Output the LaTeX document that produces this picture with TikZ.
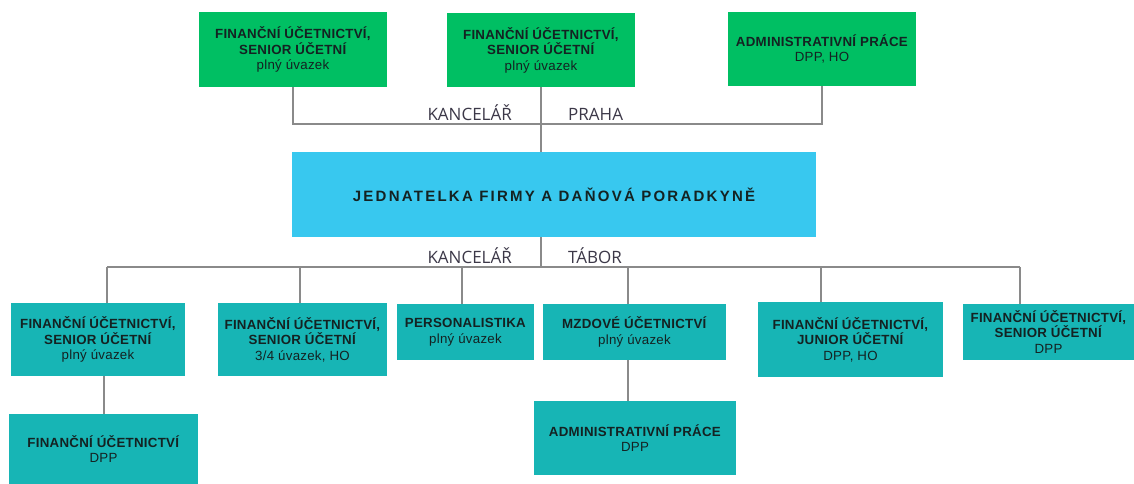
\documentclass[tikz,border=0pt]{standalone}
\usepackage{fontspec}
\setmainfont{Liberation Sans}
\newfontfamily\labelfont{Open Sans}
\definecolor{cgreen}{HTML}{00BF63}
\definecolor{cblue}{HTML}{38C8EF}
\definecolor{cteal}{HTML}{17B5B5}
\definecolor{ctext}{HTML}{142222}
\definecolor{cline}{HTML}{8A8A8A}
\definecolor{clabel}{HTML}{3C3848}
\tikzset{
  box/.style={draw=none, inner sep=0pt, align=center, text=ctext,
    font=\fontsize{13.3}{15.5}\selectfont\addfontfeatures{LetterSpace=2}},
  gbox/.style={box, fill=cgreen},
  tbox/.style={box, fill=cteal},
  conn/.style={draw=cline, line width=1.1pt},
  lbl/.style={font=\labelfont\fontsize{17}{19}\selectfont, text=clabel, inner sep=0pt}
}
\begin{document}
\begin{tikzpicture}[x=1pt,y=-1pt]
\useasboundingbox[fill=white] (0,0) rectangle (1134,483);
% top row
\node[gbox, minimum width=188pt, minimum height=75pt] (T1) at (293,49.5)
  {\textbf{FINANČNÍ ÚČETNICTVÍ,}\\\textbf{SENIOR ÚČETNÍ}\\plný úvazek};
\node[gbox, minimum width=188pt, minimum height=74pt] (T2) at (541,50)
  {\textbf{FINANČNÍ ÚČETNICTVÍ,}\\\textbf{SENIOR ÚČETNÍ}\\plný úvazek};
\node[gbox, minimum width=188pt, minimum height=74pt] (T3) at (822,49)
  {\textbf{ADMINISTRATIVNÍ PRÁCE}\\DPP, HO};
% main
\node[box, fill=cblue, minimum width=524pt, minimum height=85pt,
  font=\fontsize{15}{18}\selectfont\bfseries\addfontfeatures{LetterSpace=15}] (M) at (554,194.5)
  {JEDNATELKA FIRMY A DAŇOVÁ PORADKYNĚ};
% bottom row
\node[tbox, minimum width=174pt, minimum height=73pt] (B1) at (98,339.5)
  {\textbf{FINANČNÍ ÚČETNICTVÍ,}\\\textbf{SENIOR ÚČETNÍ}\\plný úvazek};
\node[tbox, minimum width=169pt, minimum height=73pt] (B2) at (302.5,339.5)
  {\textbf{FINANČNÍ ÚČETNICTVÍ,}\\\textbf{SENIOR ÚČETNÍ}\\3/4 úvazek, HO};
\node[tbox, minimum width=137pt, minimum height=56pt] (B3) at (465.5,332)
  {\textbf{PERSONALISTIKA}\\plný úvazek};
\node[tbox, minimum width=183pt, minimum height=56pt] (B4) at (634.5,332)
  {\textbf{MZDOVÉ ÚČETNICTVÍ}\\plný úvazek};
\node[tbox, minimum width=185pt, minimum height=75pt] (B5) at (850.5,339.5)
  {\textbf{FINANČNÍ ÚČETNICTVÍ,}\\\textbf{JUNIOR ÚČETNÍ}\\DPP, HO};
\node[tbox, minimum width=171pt, minimum height=56pt] (B6) at (1048.5,332)
  {\textbf{FINANČNÍ ÚČETNICTVÍ,}\\\textbf{SENIOR ÚČETNÍ}\\DPP};
\node[tbox, minimum width=189pt, minimum height=70pt] (B7) at (103.5,449)
  {\textbf{FINANČNÍ ÚČETNICTVÍ}\\DPP};
\node[tbox, minimum width=202pt, minimum height=74pt] (B8) at (635,438)
  {\textbf{ADMINISTRATIVNÍ PRÁCE}\\DPP};
% labels
\node[lbl, anchor=base east] (l1) at (512,120) {KANCELÁŘ};
\node[lbl, anchor=base west] (l2) at (568,120) {PRAHA};
\node[lbl, anchor=base east] (l3) at (512,263) {KANCELÁŘ};
\node[lbl, anchor=base west] (l4) at (568,263) {TÁBOR};
% connectors
\coordinate (tb) at (0,124);
\coordinate (bb) at (0,267);
\draw[conn] (T1.south) -- (T1.south |- tb) -| (T3.south);
\draw[conn] (T2.south) -- (T2.south |- M.north);
\draw[conn] (T2.south |- M.south) -- (T2.south |- bb);
\coordinate (d1) at (107,267);
\coordinate (d2) at (300,267);
\coordinate (d3) at (462,267);
\coordinate (d4) at (628,267);
\coordinate (d5) at (821,267);
\coordinate (d6) at (1020,267);
\draw[conn] (d1) -- (d6);
\draw[conn] (d1) -- (d1 |- B1.north);
\draw[conn] (d2) -- (d2 |- B2.north);
\draw[conn] (d3) -- (d3 |- B3.north);
\draw[conn] (d4) -- (d4 |- B4.north);
\draw[conn] (d5) -- (d5 |- B5.north);
\draw[conn] (d6) -- (d6 |- B6.north);
\coordinate (s1) at (104,0);
\draw[conn] (s1 |- B1.south) -- (s1 |- B7.north);
\draw[conn] (d4 |- B4.south) -- (d4 |- B8.north);
\end{tikzpicture}
\end{document}
